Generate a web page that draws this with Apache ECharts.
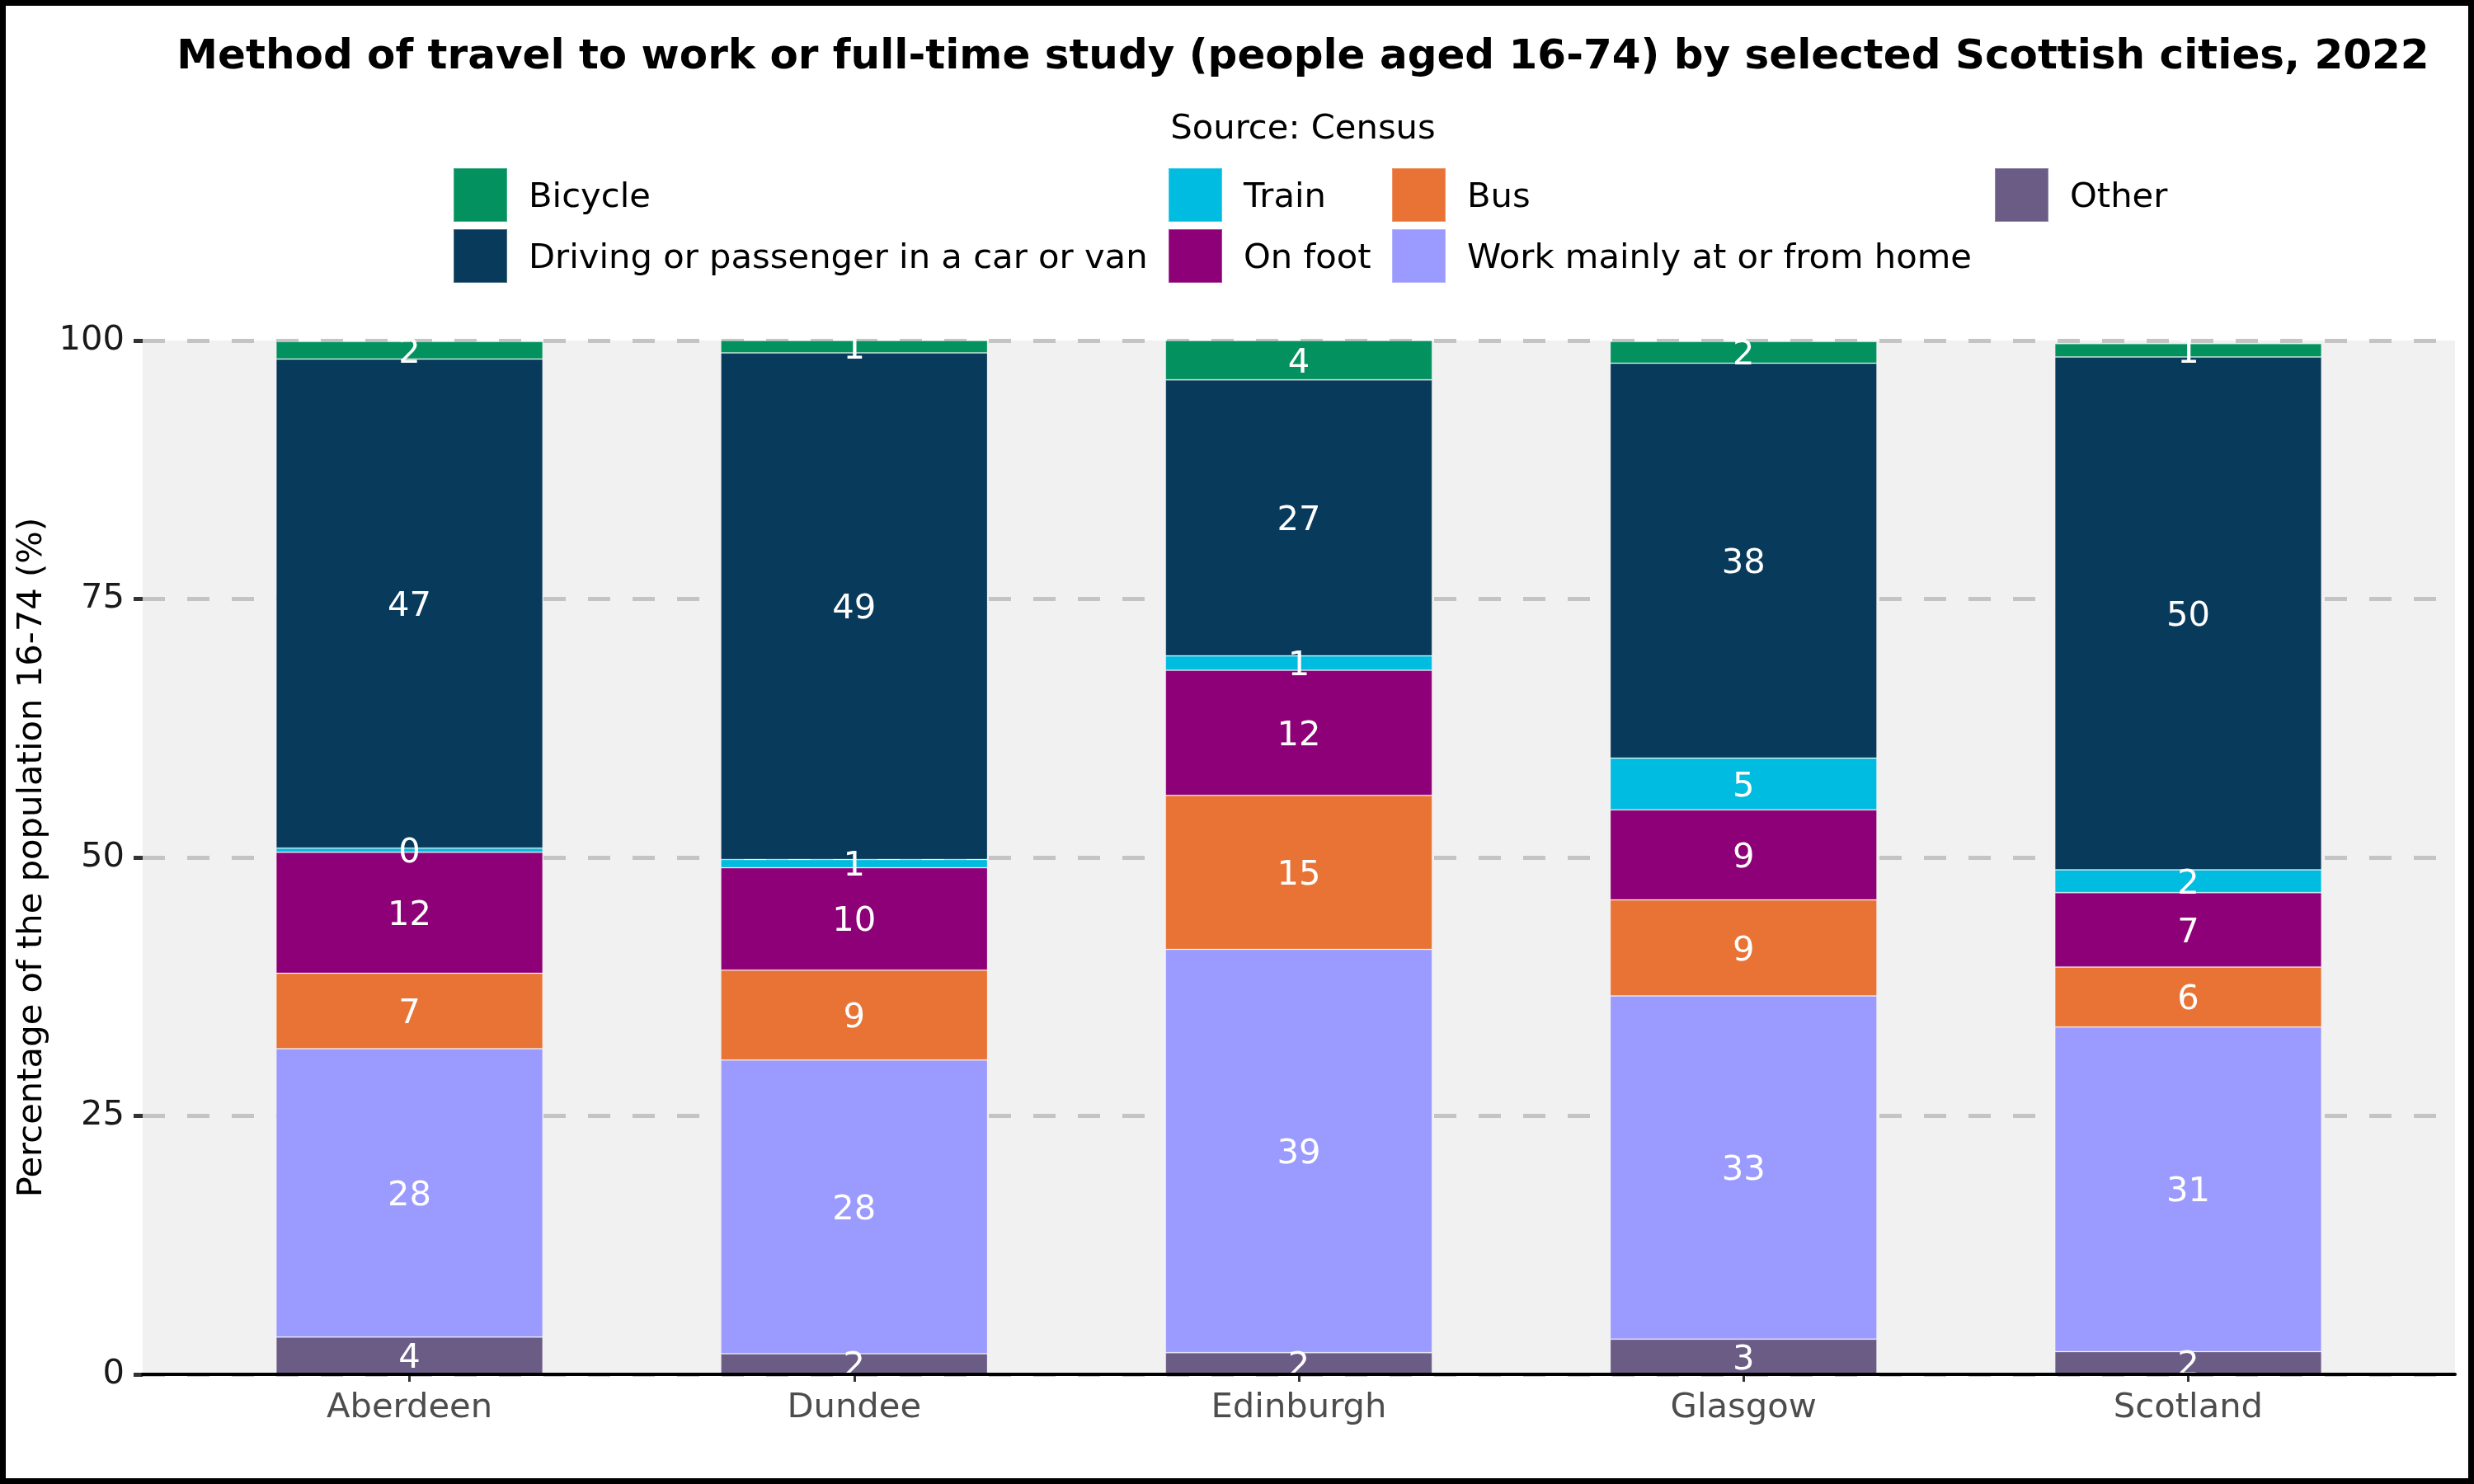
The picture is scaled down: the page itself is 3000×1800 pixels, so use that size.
<!DOCTYPE html>
<html>
<head>
<meta charset="utf-8">
<script src="https://cdn.jsdelivr.net/npm/echarts@6/dist/echarts.min.js"></script>
<style>
	html, body { margin: 0; padding: 0; background: #fff; }
	#chart { position: absolute; left: 0; top: 0; width: 3000px; height: 1800px; }
	#frame { position: absolute; left: 0; top: 0; width: 3000px; height: 1800px; box-sizing: border-box; border: 7px solid #000; pointer-events: none; }
</style>
</head>
<body>
<div id="chart"></div>
<div id="frame"></div>
<script>
// data (percent of people aged 16-74)
var cities = ['Aberdeen', 'Dundee', 'Edinburgh', 'Glasgow', 'Scotland'];
var other = [3.6, 2.0, 2.1, 3.4, 2.2];
var workFromHome = [27.9, 28.4, 39.0, 33.2, 31.4];
var bus = [7.3, 8.7, 14.9, 9.3, 5.8];
var onFoot = [11.7, 9.9, 12.1, 8.7, 7.2];
var train = [0.4, 0.8, 1.4, 5.0, 2.2];
var driving = [47.3, 49.0, 26.7, 38.2, 49.6];
var bicycle = [1.7, 1.2, 3.8, 2.1, 1.3];

var FONT = 'DejaVu Sans';
var BASE = 41.7;

// bottom to top in the stack
var layers = [
	{ name: 'Other', values: other, color: '#6B5C86' },
	{ name: 'Work mainly at or from home', values: workFromHome, color: '#9B9AFF' },
	{ name: 'Bus', values: bus, color: '#E87334' },
	{ name: 'On foot', values: onFoot, color: '#8E0077' },
	{ name: 'Train', values: train, color: '#00BCE0' },
	{ name: 'Driving or passenger in a car or van', values: driving, color: '#083A5B' },
	{ name: 'Bicycle', values: bicycle, color: '#049160' }
];

// panel is 173..2977 px; ggplot-style 0.6 expansion each side, so the
// category band grid is inset by 0.1 band on each side (band = 2804/5.2)
var panelLeft = 173, panelRight = 23, panelTop = 413, panelBottom = 133;
var band = (3000 - panelLeft - panelRight) / 5.2;
var inset = band * 0.1;

function makeSeries(layer) {
	return {
		name: layer.name,
		type: 'bar',
		stack: 'total',
		xAxisIndex: 1,
		yAxisIndex: 1,
		barWidth: '60%',
		data: layer.values,
		itemStyle: { color: layer.color, borderColor: 'rgba(255,255,255,0.25)', borderWidth: 1 },
		label: {
			show: true,
			position: 'inside',
			offset: [0, 4],
			color: '#fff',
			fontFamily: FONT,
			fontSize: BASE,
			formatter: function(p) { return Math.round(p.value); }
		},
		emphasis: { disabled: true }
	};
}

function makeLegend(names, left) {
	return {
		data: names,
		orient: 'vertical',
		left: left,
		top: 203,
		itemWidth: 65,
		itemHeight: 65,
		itemGap: 7,
		icon: 'rect',
		selectedMode: false,
		padding: 0,
		formatter: '{t|{name}}',
		textStyle: {
			fontFamily: FONT, fontSize: BASE, color: '#000', padding: [0, 0, 0, 21],
			rich: { t: { fontFamily: FONT, fontSize: BASE, color: '#000', padding: [8, 0, 0, 0] } }
		}
	};
}

var mychart = echarts.init(document.getElementById('chart'), null, { width: 3000, height: 1800 });
var option = {
	backgroundColor: '#fff',
	animation: false,
	title: [{
		text: 'Method of travel to work or full-time study (people aged 16-74) by selected Scottish cities, 2022',
		left: 1575,
		textAlign: 'center',
		top: 40,
		textStyle: { fontFamily: FONT, fontWeight: 'bold', fontSize: 50, color: '#000' }
	}, {
		text: 'Source: Census',
		left: 1575,
		textAlign: 'center',
		top: 131,
		textStyle: { fontFamily: FONT, fontWeight: 'normal', fontSize: BASE, color: '#000' }
	}],
	legend: [
		makeLegend(['Bicycle', 'Driving or passenger in a car or van'], 549),
		makeLegend(['Train', 'On foot'], 1416),
		makeLegend(['Bus', 'Work mainly at or from home'], 1687),
		makeLegend(['Other'], 2418)
	],
	grid: [{
		// panel: background, gridlines, y axis, x axis line
		left: panelLeft,
		right: panelRight,
		top: panelTop,
		bottom: panelBottom,
		show: true,
		backgroundColor: '#F1F1F1',
		borderWidth: 0
	}, {
		// bars: category bands
		left: panelLeft + inset,
		right: panelRight + inset,
		top: panelTop,
		bottom: panelBottom
	}],
	xAxis: [{
		gridIndex: 0,
		type: 'value',
		min: 0,
		max: 1,
		z: 5,
		axisLine: { show: true, onZero: false, lineStyle: { color: '#000', width: 4 } },
		axisTick: { show: false },
		axisLabel: { show: false },
		splitLine: { show: false }
	}, {
		gridIndex: 1,
		type: 'category',
		data: cities,
		axisLine: { show: false },
		axisTick: { show: true, alignWithLabel: true, length: 9, lineStyle: { color: '#333', width: 3 } },
		axisLabel: {
			fontFamily: FONT,
			fontSize: BASE,
			color: '#4D4D4D',
			margin: 20
		},
		splitLine: { show: false }
	}],
	yAxis: [{
		gridIndex: 0,
		type: 'value',
		min: 0,
		max: 100,
		interval: 25,
		name: 'Percentage of the population 16-74 (%)',
		nameLocation: 'middle',
		nameGap: 112,
		nameTextStyle: { fontFamily: FONT, fontSize: BASE, color: '#000' },
		axisLine: { show: false },
		axisTick: { show: true, length: 11, lineStyle: { color: '#333', width: 5 } },
		axisLabel: {
			fontFamily: FONT,
			fontSize: BASE,
			color: '#1A1A1A',
			margin: 22
		},
		splitLine: { show: true, lineStyle: { color: '#C4C4C4', width: 5, type: [27, 27] } }
	}, {
		gridIndex: 1,
		type: 'value',
		min: 0,
		max: 100,
		show: false
	}],
	series: layers.map(makeSeries)
};
mychart.setOption(option);
</script>
</body>
</html>
